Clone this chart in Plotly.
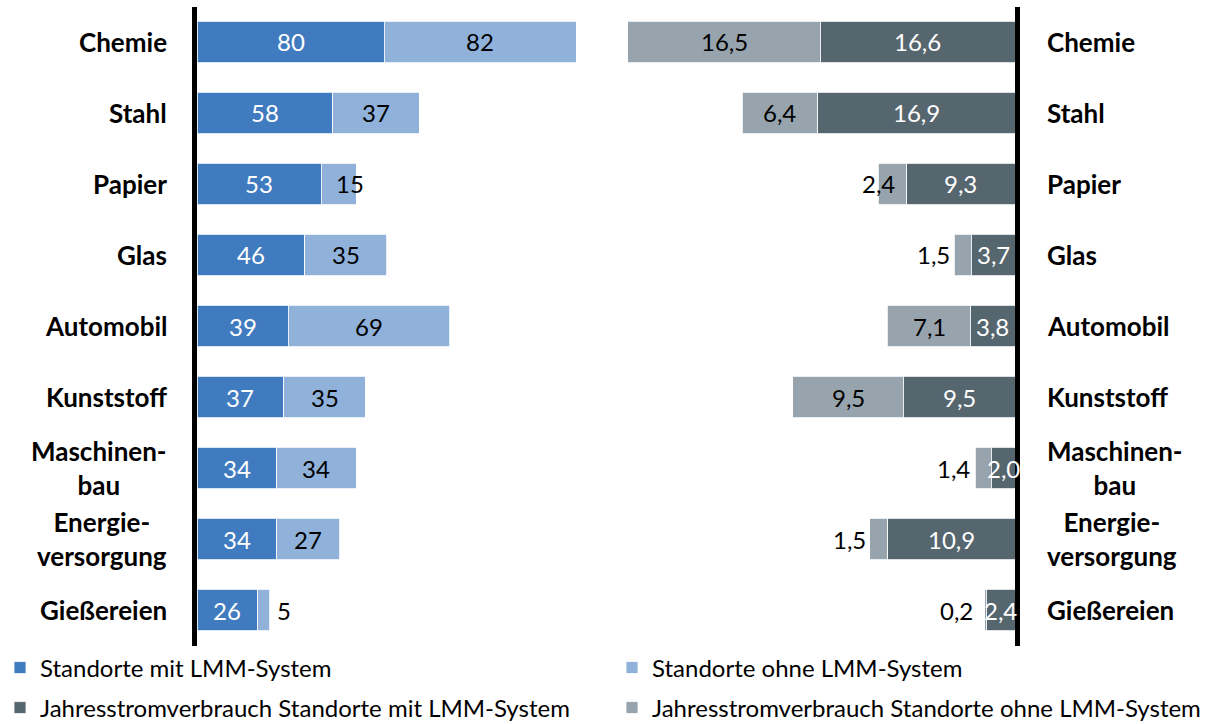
import plotly.graph_objects as go

# ---------------- data ----------------
categories = ["Chemie", "Stahl", "Papier", "Glas", "Automobil", "Kunststoff",
              "Maschinenbau", "Energieversorgung", "Gießereien"]
category_labels = ["Chemie", "Stahl", "Papier", "Glas", "Automobil", "Kunststoff",
                   "Maschinen-<br>bau", "Energie-<br>versorgung", "Gießereien"]
sites_with_lmm = [80, 58, 53, 46, 39, 37, 34, 34, 26]
sites_without_lmm = [82, 37, 15, 35, 69, 35, 34, 27, 5]
power_with_lmm = [16.6, 16.9, 9.3, 3.7, 3.8, 9.5, 2.0, 10.9, 2.4]
power_without_lmm = [16.5, 6.4, 2.4, 1.5, 7.1, 9.5, 1.4, 1.5, 0.2]

series_names = ["Standorte mit LMM-System", "Standorte ohne LMM-System",
                "Jahresstromverbrauch Standorte mit LMM-System",
                "Jahresstromverbrauch Standorte ohne LMM-System"]

# label placement for the outer segments: c = centred, e = at edge, o = outside
sites_without_mode = ["c", "c", "e", "c", "c", "c", "c", "c", "o"]
power_without_mode = ["c", "c", "e", "o", "c", "c", "o", "o", "o"]

# ---------------- style ----------------
C_BLUE_DARK = "#417BBF"
C_BLUE_LIGHT = "#8FB1DA"
C_GREY_DARK = "#56666F"
C_GREY_LIGHT = "#97A4AD"
FONT = "Lato"
W, H = 1225, 724

def px_x(p):
    return p / W

def px_y(p):
    return 1 - p / H

LEFT_DOM = (197, 597)
RIGHT_DOM = (605, 1015)
LEFT_SCALE = 2.34      # px per unit
RIGHT_SCALE = 11.7

def de(v, dec):
    return f"{v:.{dec}f}".replace(".", ",")

fig = go.Figure()

bar_kw = dict(orientation="h", width=0.59, hoverinfo="skip",
              textposition="none")
fig.add_trace(go.Bar(x=sites_with_lmm, y=categories, name=series_names[0],
                     marker=dict(color=C_BLUE_DARK, line=dict(color="white", width=0.8)),
                     xaxis="x", yaxis="y", legend="legend", **bar_kw))
fig.add_trace(go.Bar(x=sites_without_lmm, y=categories, name=series_names[1],
                     marker=dict(color=C_BLUE_LIGHT, line=dict(color="white", width=0.8)),
                     xaxis="x", yaxis="y", legend="legend2", **bar_kw))
fig.add_trace(go.Bar(x=power_with_lmm, y=categories, name=series_names[2],
                     marker=dict(color=C_GREY_DARK, line=dict(color="white", width=0.8)),
                     xaxis="x2", yaxis="y2", legend="legend3", **bar_kw))
fig.add_trace(go.Bar(x=power_without_lmm, y=categories, name=series_names[3],
                     marker=dict(color=C_GREY_LIGHT, line=dict(color="white", width=0.8)),
                     xaxis="x2", yaxis="y2", legend="legend4", **bar_kw))

annotations = []
VAL_FONT = dict(family=FONT, size=24)

def add_labels(inner, outer, modes, xref, yref, dec, sign):
    for cat, a, b, m in zip(categories, inner, outer, modes):
        annotations.append(dict(x=a / 2, y=cat, xref=xref, yref=yref, text=de(a, dec),
                                showarrow=False, font=dict(VAL_FONT, color="white"),
                                xanchor="center", yanchor="middle"))
        cx = a + b / 2
        if m == "c":
            annotations.append(dict(x=cx, y=cat, xref=xref, yref=yref, text=de(b, dec),
                                    showarrow=False, font=dict(VAL_FONT, color="black"),
                                    xanchor="center", yanchor="middle"))
        else:
            shift = 11 if m == "o" else -5
            annotations.append(dict(x=cx, y=cat, xref=xref, yref=yref, text=de(b, dec),
                                    showarrow=False, font=dict(VAL_FONT, color="black"),
                                    xanchor="left" if sign > 0 else "right",
                                    xshift=sign * shift, yanchor="middle"))

add_labels(sites_with_lmm, sites_without_lmm, sites_without_mode, "x", "y", 0, 1)
add_labels(power_with_lmm, power_without_lmm, power_without_mode, "x2", "y2", 1, -1)

CAT_FONT = dict(family=FONT, size=26, color="black", weight="bold")
for cat, lab in zip(categories, category_labels):
    annotations.append(dict(x=px_x(169), y=cat, xref="paper", yref="y", text=lab,
                            showarrow=False, font=CAT_FONT, xanchor="right",
                            yanchor="middle", align="center"))
    annotations.append(dict(x=px_x(1045), y=cat, xref="paper", yref="y", text=lab,
                            showarrow=False, font=CAT_FONT, xanchor="left",
                            yanchor="middle", align="center"))

y_dom = [px_y(645.5), px_y(6.5)]
yaxis_common = dict(categoryorder="array", categoryarray=categories,
                    range=[len(categories) - 0.5, -0.5], domain=y_dom,
                    showticklabels=False, showgrid=False, zeroline=False,
                    showline=True, linecolor="black", linewidth=5, ticks="")

LEG_FONT = dict(family=FONT, size=24, color="black")

def leg(xp, yp):
    return dict(orientation="h", x=px_x(xp), xanchor="left", y=px_y(yp), yanchor="middle",
                font=LEG_FONT, bgcolor="rgba(0,0,0,0)", itemclick=False,
                itemdoubleclick=False)

fig.update_layout(
    width=W, height=H,
    margin=dict(l=0, r=0, t=0, b=0, autoexpand=False),
    paper_bgcolor="white", plot_bgcolor="white",
    barmode="stack", bargap=0.41,
    font=dict(family=FONT, color="black"),
    xaxis=dict(domain=[px_x(LEFT_DOM[0]), px_x(LEFT_DOM[1])],
               range=[0, (LEFT_DOM[1] - LEFT_DOM[0]) / LEFT_SCALE],
               visible=False, anchor="y"),
    yaxis=dict(yaxis_common, anchor="x", side="left"),
    xaxis2=dict(domain=[px_x(RIGHT_DOM[0]), px_x(RIGHT_DOM[1])],
                range=[(RIGHT_DOM[1] - RIGHT_DOM[0]) / RIGHT_SCALE, 0],
                visible=False, anchor="y2"),
    yaxis2=dict(yaxis_common, anchor="x2", side="right"),
    annotations=annotations,
    legend=leg(0, 668),
    legend2=leg(612, 668),
    legend3=leg(0, 708),
    legend4=leg(612, 708),
    showlegend=True,
)

fig.write_html("out.html",
               config={"displayModeBar": False},
               post_script="document.body.style.margin='0';document.body.style.padding='0';")
